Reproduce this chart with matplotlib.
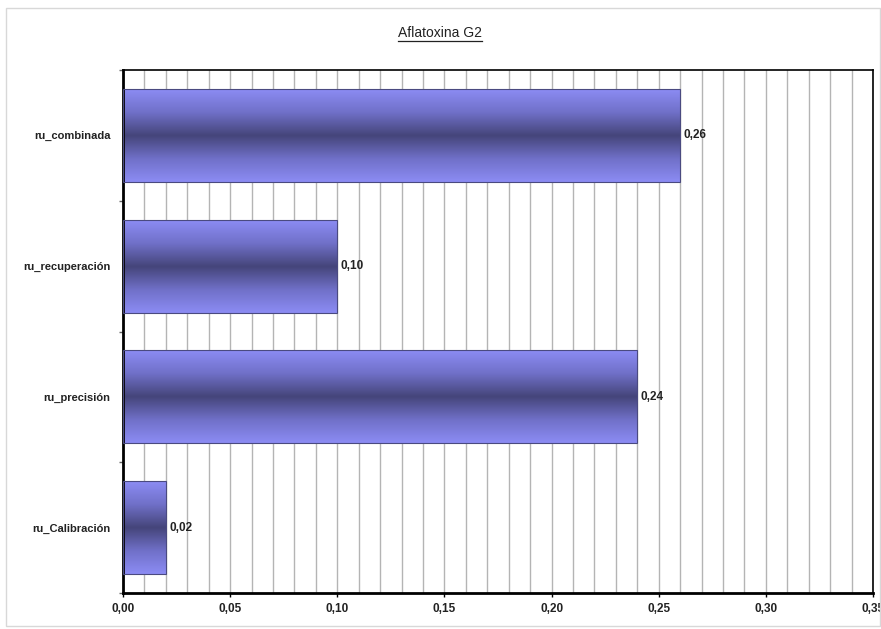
import numpy as np
import matplotlib
matplotlib.use("Agg")
import matplotlib.pyplot as plt
from matplotlib.colors import LinearSegmentedColormap
from matplotlib.patches import Rectangle
from matplotlib.lines import Line2D

categorias = ['ru_Calibración', 'ru_precisión', 'ru_recuperación', 'ru_combinada']
valores = [0.02, 0.24, 0.10, 0.26]
titulo = 'Aflatoxina G2'

plt.rcParams['font.family'] = ['Liberation Sans', 'DejaVu Sans']

fig = plt.figure(figsize=(8.81, 6.29), dpi=100)
fig.patches.append(Rectangle((6/881, 1 - 626/629), 874/881, 618/629, transform=fig.transFigure,
                             fill=False, edgecolor='#d8d8d8', linewidth=1.0))
ax = fig.add_axes([123/881, 36/629, 750/881, 523/629])

y = np.arange(len(categorias))
bars = ax.barh(y, valores, height=0.71, color='none', edgecolor='#4a4a80', linewidth=0.8, zorder=3)

# degradado vertical: claro en los bordes, oscuro en el centro
cmap = LinearSegmentedColormap.from_list('barra', ['#8c8cf4', '#7070c8', '#45457a', '#7070c8', '#8c8cf4'])
grad = np.linspace(0, 1, 256).reshape(-1, 1)
for b in bars:
    x0, y0, w, h = b.get_x(), b.get_y(), b.get_width(), b.get_height()
    im = ax.imshow(grad, cmap=cmap, aspect='auto', extent=(x0, x0 + w, y0, y0 + h),
                   origin='lower', zorder=2, interpolation='bicubic')
    im.set_clip_path(b)
    ax.text(x0 + w + 0.0015, y0 + h / 2, f'{w:.2f}'.replace('.', ','), va='center', ha='left',
            fontsize=8.5, fontweight='bold', color='#222222', zorder=4)

ax.set_xlim(0, 0.35)
ax.set_ylim(-0.5, len(categorias) - 0.5)
ax.set_aspect('auto')

ax.set_xticks(np.arange(0, 0.351, 0.05))
ax.set_xticklabels([f'{v:.2f}'.replace('.', ',') for v in np.arange(0, 0.351, 0.05)],
                   fontsize=8.5, fontweight='bold', color='#222222')
ax.set_xticks(np.arange(0, 0.351, 0.01), minor=True)
ax.grid(True, which='both', axis='x', color='#b4b4b4', linewidth=1.0, zorder=0)
ax.tick_params(axis='x', which='major', length=3, width=1, direction='out', pad=4)
ax.tick_params(axis='x', which='minor', length=0)

ax.set_yticks(y)
ax.set_yticklabels(categorias, fontsize=8, fontweight='bold', color='#222222')
ax.set_yticks(np.arange(-0.5, len(categorias), 1.0), minor=True)
ax.tick_params(axis='y', which='major', length=0, pad=9)
ax.tick_params(axis='y', which='minor', length=3, width=1, direction='out', color='#666666')

ax.spines['left'].set_linewidth(2.0)
ax.spines['bottom'].set_linewidth(2.0)
ax.spines['top'].set_linewidth(1.2)
ax.spines['right'].set_linewidth(1.2)

t = fig.text(440/881, 1 - 33/629, titulo, ha='center', va='center', fontsize=10, color='#222222')
fig.canvas.draw()
bb = t.get_window_extent().transformed(fig.transFigure.inverted())
fig.lines.append(Line2D([bb.x0, bb.x1], [bb.y0 - 0.002, bb.y0 - 0.002], transform=fig.transFigure,
                        color='#222222', linewidth=0.9))

fig.savefig('out.png', dpi=100)
